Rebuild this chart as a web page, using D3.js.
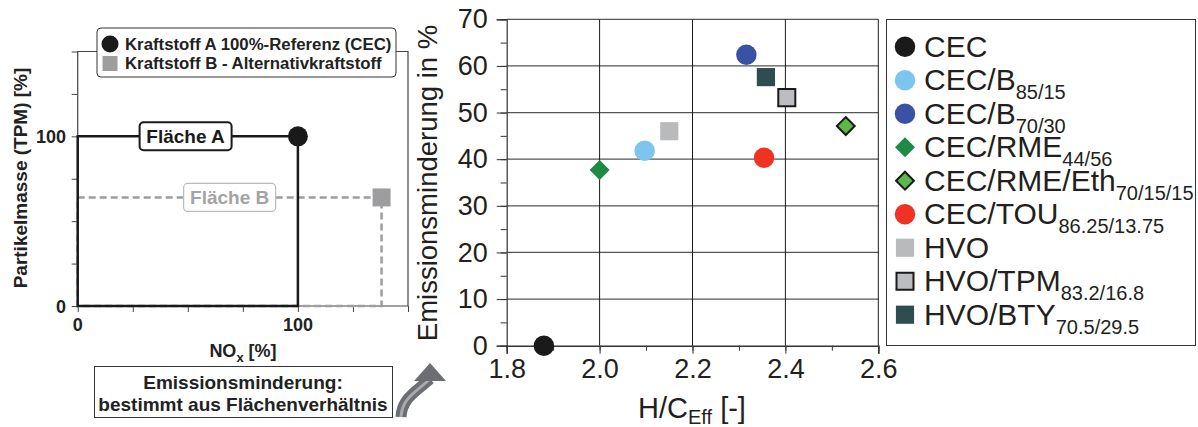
<!DOCTYPE html>
<html>
<head>
<meta charset="utf-8">
<script src="https://cdn.jsdelivr.net/npm/d3@7/dist/d3.min.js"></script>
<style>
  body { margin: 0; background: #fff; }
  svg { display: block; font-family: 'Liberation Sans', Arial, sans-serif; }
</style>
</head>
<body>
<div id="chart"></div>
<script>
// fuels in the scatter (name + subscript)
const fuelNames = ['CEC', 'CEC/B', 'CEC/B', 'CEC/RME', 'CEC/RME/Eth', 'CEC/TOU', 'HVO', 'HVO/TPM', 'HVO/BTY']
const fuelSubs = ['', '85/15', '70/30', '44/56', '70/15/15', '86.25/13.75', '', '83.2/16.8', '70.5/29.5']
const hcEff = [1.88, 2.097, 2.316, 2.0, 2.53, 2.354, 2.15, 2.403, 2.358]
const reduction = [0, 41.8, 62.4, 37.7, 47.1, 40.3, 46.0, 53.2, 57.6]
const fills = ['#1a1a1a', '#7dc4ee', '#3a52a4', '#1d8a45', '#5cb847', '#ee3224', '#b9babc', '#bcbdc0', '#2f4c50']
const shapes = ['circle', 'circle', 'circle', 'diamond', 'diamond', 'circle', 'square', 'square', 'square']
const outlined = [false, false, false, false, true, false, false, true, false]

const xTicks = [1.8, 2.0, 2.2, 2.4, 2.6]
const yTicks = [0, 10, 20, 30, 40, 50, 60, 70]

// schematic panel
const refA = [100, 100]
const fuelB = [138, 64]
const schemTicks = [0, 25, 50, 75, 100, 125, 150]
const schemLabels = [0, 100]

const svg = d3.select('#chart')
  .append('svg')
  .attr('width', 1198)
  .attr('height', 427)

/* ---------- left schematic ---------- */
const xS = d3.scaleLinear().domain([0, 150]).range([77.7, 408])
const yS = d3.scaleLinear().domain([0, 150]).range([306, 51.5])

const left = svg.append('g')

// frame
left.append('path')
  .attr('d', `M${xS(0)},${yS(150)} H${xS(150)} V${yS(0)} H${xS(0)} Z`)
  .attr('fill', 'none')
  .attr('stroke', '#444')
  .attr('stroke-width', 1.2)

left.append('g')
  .attr('transform', `translate(0,${yS(0)})`)
  .call(d3.axisBottom(xS).tickValues(schemTicks).tickSize(6).tickFormat(''))
  .call(g => g.select('.domain').remove())
  .selectAll('line').attr('stroke', '#444')

left.append('g')
  .attr('transform', `translate(${xS(0)},0)`)
  .call(d3.axisLeft(yS).tickValues(schemTicks).tickSize(6).tickFormat(''))
  .call(g => g.select('.domain').remove())
  .selectAll('line').attr('stroke', '#444')

left.selectAll('.xlab')
  .data(schemLabels)
  .enter()
  .append('text')
  .attr('x', d => xS(d))
  .attr('y', 331)
  .attr('text-anchor', 'middle')
  .attr('font-weight', 'bold')
  .attr('font-size', 18)
  .attr('fill', '#222')
  .text(d => d)

left.selectAll('.ylab')
  .data(schemLabels)
  .enter()
  .append('text')
  .attr('x', 66)
  .attr('y', d => yS(d) + 7)
  .attr('text-anchor', 'end')
  .attr('font-weight', 'bold')
  .attr('font-size', 18)
  .attr('fill', '#222')
  .text(d => d)

// Fläche B (dashed)
left.append('path')
  .attr('d', `M${xS(0)},${yS(fuelB[1])} H${xS(fuelB[0])} V${yS(0)} H${xS(0)} Z`)
  .attr('fill', 'none')
  .attr('stroke', '#9d9d9d')
  .attr('stroke-width', 2.5)
  .attr('stroke-dasharray', '7 4')

// Fläche A
left.append('path')
  .attr('d', `M${xS(0)},${yS(refA[1])} H${xS(refA[0])} V${yS(0)} H${xS(0)} Z`)
  .attr('fill', 'none')
  .attr('stroke', '#1a1a1a')
  .attr('stroke-width', 2.5)

left.append('circle')
  .attr('cx', xS(refA[0]))
  .attr('cy', yS(refA[1]))
  .attr('r', 10)
  .attr('fill', '#1a1a1a')

left.append('rect')
  .attr('x', xS(fuelB[0]) - 9)
  .attr('y', yS(fuelB[1]) - 9)
  .attr('width', 18)
  .attr('height', 18)
  .attr('fill', '#9d9d9f')

// area labels
function areaLabel(cx, cy, txt, stroke, sw, color) {
  left.append('rect')
    .attr('x', cx - 46).attr('y', cy - 14)
    .attr('width', 92).attr('height', 28)
    .attr('rx', 4)
    .attr('fill', '#fff')
    .attr('stroke', stroke)
    .attr('stroke-width', sw)
  left.append('text')
    .attr('x', cx).attr('y', cy + 7)
    .attr('text-anchor', 'middle')
    .attr('font-weight', 'bold')
    .attr('font-size', 19)
    .attr('fill', color)
    .text(txt)
}
areaLabel(xS(49), yS(100), 'Fläche A', '#1a1a1a', 2, '#1a1a1a')
areaLabel(xS(69), yS(64), 'Fläche B', '#bbb', 1.2, '#a3a3a3')

// legend of schematic
left.append('rect')
  .attr('x', 97).attr('y', 28)
  .attr('width', 299).attr('height', 49)
  .attr('rx', 4)
  .attr('fill', '#fff')
  .attr('stroke', '#333')
  .attr('stroke-width', 1)
left.append('circle').attr('cx', 110).attr('cy', 44).attr('r', 8.5).attr('fill', '#1a1a1a')
left.append('rect').attr('x', 102.5).attr('y', 56).attr('width', 15).attr('height', 15).attr('fill', '#9d9d9f')
left.append('text').attr('x', 125).attr('y', 50)
  .attr('font-weight', 'bold').attr('font-size', 16.8).attr('fill', '#222')
  .text('Kraftstoff A 100%-Referenz (CEC)')
left.append('text').attr('x', 125).attr('y', 69)
  .attr('font-weight', 'bold').attr('font-size', 16.8).attr('fill', '#222')
  .text('Kraftstoff B - Alternativkraftstoff')

// axis titles
left.append('text')
  .attr('transform', 'translate(27,178) rotate(-90)')
  .attr('text-anchor', 'middle')
  .attr('font-weight', 'bold')
  .attr('font-size', 19)
  .attr('fill', '#222')
  .text('Partikelmasse (TPM) [%]')

const noxLabel = left.append('text')
  .attr('x', 243).attr('y', 357)
  .attr('text-anchor', 'middle')
  .attr('font-weight', 'bold')
  .attr('font-size', 18)
  .attr('fill', '#222')
noxLabel.append('tspan').text('NO')
noxLabel.append('tspan').attr('font-size', 13).attr('dy', 5).text('x')
noxLabel.append('tspan').attr('dy', -5).text(' [%]')

// explanation box
left.append('rect')
  .attr('x', 94.5).attr('y', 366.5)
  .attr('width', 298).attr('height', 51)
  .attr('fill', '#fff')
  .attr('stroke', '#333')
left.append('text').attr('x', 243).attr('y', 389)
  .attr('text-anchor', 'middle').attr('font-weight', 'bold').attr('font-size', 19).attr('fill', '#222')
  .text('Emissionsminderung:')
left.append('text').attr('x', 243).attr('y', 411)
  .attr('text-anchor', 'middle').attr('font-weight', 'bold').attr('font-size', 19).attr('fill', '#222')
  .text('bestimmt aus Flächenverhältnis')

// curved arrow
const arrowPath = 'M401,417 C402,398 416,392 430,379'
left.append('path').attr('d', arrowPath)
  .attr('fill', 'none').attr('stroke', '#6d6e71').attr('stroke-width', 11)
left.append('path').attr('d', arrowPath)
  .attr('fill', 'none').attr('stroke', '#a7a9ac').attr('stroke-width', 3)
left.append('path')
  .attr('d', 'M430,363 L446,381 L414,381 Z')
  .attr('fill', '#6d6e71')

/* ---------- right scatter ---------- */
const x = d3.scaleLinear().domain([1.8, 2.6]).range([506.7, 878.3])
const y = d3.scaleLinear().domain([0, 70]).range([345.7, 19.3])

const right = svg.append('g')

// horizontal grid
right.append('g')
  .selectAll('line')
  .data(yTicks.slice(1))
  .enter()
  .append('line')
  .attr('x1', x(1.8)).attr('x2', x(2.6))
  .attr('y1', d => y(d)).attr('y2', d => y(d))
  .attr('stroke', '#555')
  .attr('stroke-width', 1.2)

// vertical grid
right.append('g')
  .selectAll('line')
  .data(xTicks.slice(1))
  .enter()
  .append('line')
  .attr('x1', d => x(d)).attr('x2', d => x(d))
  .attr('y1', y(0)).attr('y2', y(70))
  .attr('stroke', '#1a1a1a')
  .attr('stroke-width', 1)

// axes
const xAxisMinor = right.append('g')
  .attr('transform', `translate(0,${y(0)})`)
  .call(d3.axisBottom(x).ticks(8).tickSize(5).tickFormat(''))
xAxisMinor.selectAll('line').attr('stroke', '#333')
xAxisMinor.select('.domain').remove()

const xAxis = right.append('g')
  .attr('transform', `translate(0,${y(0)})`)
  .call(d3.axisBottom(x).tickValues(xTicks).tickSize(8).tickPadding(5).tickFormat(d3.format('.1f')))
xAxis.select('.domain').attr('stroke', '#333').attr('stroke-width', 1.5)
xAxis.selectAll('line').attr('stroke', '#333')
xAxis.selectAll('text').attr('font-size', 27).attr('fill', '#231f20')
  .attr('font-family', "'Liberation Sans', Arial, sans-serif")

const yAxisMinor = right.append('g')
  .attr('transform', `translate(${x(1.8)},0)`)
  .call(d3.axisLeft(y).ticks(14).tickSize(6).tickFormat(''))
yAxisMinor.selectAll('line').attr('stroke', '#333')
yAxisMinor.select('.domain').remove()

const yAxis = right.append('g')
  .attr('transform', `translate(${x(1.8)},0)`)
  .call(d3.axisLeft(y).tickValues(yTicks).tickSize(10).tickPadding(9))
yAxis.select('.domain').attr('stroke', '#333').attr('stroke-width', 1.2)
yAxis.selectAll('line').attr('stroke', '#333')
yAxis.selectAll('text').attr('font-size', 27).attr('fill', '#231f20')
  .attr('font-family', "'Liberation Sans', Arial, sans-serif")

// axis titles
right.append('text')
  .attr('transform', 'translate(437,183) rotate(-90)')
  .attr('text-anchor', 'middle')
  .attr('font-size', 27.5)
  .attr('fill', '#231f20')
  .text('Emissionsminderung in %')

const hcLabel = right.append('text')
  .attr('x', 692).attr('y', 418)
  .attr('text-anchor', 'middle')
  .attr('font-size', 29)
  .attr('fill', '#231f20')
hcLabel.append('tspan').text('H/C')
hcLabel.append('tspan').attr('font-size', 20).attr('dy', 6).text('Eff')
hcLabel.append('tspan').attr('dy', -6).text(' [-]')

// markers
const symbolType = { circle: d3.symbolCircle, square: d3.symbolSquare, diamond: d3.symbolSquare }
const symbolSize = { circle: 330, square: 330, diamond: 200 }

function drawMarker(sel, i) {
  sel.append('path')
    .attr('d', d3.symbol().type(symbolType[shapes[i]]).size(symbolSize[shapes[i]] - (outlined[i] ? 40 : 0))())
    .attr('transform', shapes[i] === 'diamond' ? 'rotate(45)' : null)
    .attr('fill', fills[i])
    .attr('stroke', outlined[i] ? '#1a1a1a' : 'none')
    .attr('stroke-width', outlined[i] ? 2 : 0)
}

const idx = d3.range(fuelNames.length)

right.selectAll('.pt')
  .data(idx)
  .enter()
  .append('g')
  .attr('class', 'pt')
  .attr('transform', i => `translate(${x(hcEff[i])},${y(reduction[i])})`)
  .each(function(i) { drawMarker(d3.select(this), i) })

/* ---------- right legend ---------- */
svg.append('rect')
  .attr('x', 886.5).attr('y', 19.5)
  .attr('width', 309).attr('height', 326)
  .attr('fill', 'none')
  .attr('stroke', '#333')
  .attr('stroke-width', 1)

const legend = svg.selectAll('.leg')
  .data(idx)
  .enter()
  .append('g')
  .attr('class', 'leg')
  .attr('transform', i => `translate(905,${46.7 + i * 33.5})`)

legend.each(function(i) { drawMarker(d3.select(this), i) })

const legText = legend.append('text')
  .attr('x', 19)
  .attr('y', 10)
  .attr('font-size', 30)
  .attr('fill', '#231f20')
legText.append('tspan').text(i => fuelNames[i])
legText.append('tspan')
  .attr('font-size', 20)
  .attr('dy', 9)
  .text(i => fuelSubs[i])
</script>
</body>
</html>
